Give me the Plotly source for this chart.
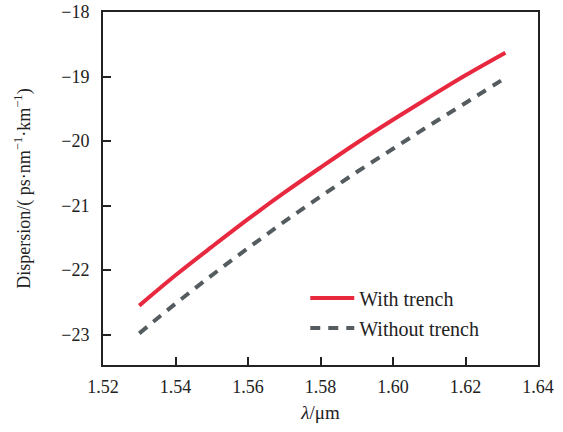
import plotly.graph_objects as go

wavelength = [1.53, 1.54, 1.55, 1.56, 1.57, 1.58, 1.59, 1.60, 1.61, 1.62, 1.631]
with_trench = [-22.55, -22.08, -21.64, -21.21, -20.80, -20.41, -20.03, -19.67, -19.32, -18.98, -18.63]
without_trench = [-22.98, -22.52, -22.08, -21.66, -21.25, -20.86, -20.48, -20.12, -19.76, -19.41, -19.02]

x_ticks = [1.52, 1.54, 1.56, 1.58, 1.60, 1.62, 1.64]
x_ticklabels = ["1.52", "1.54", "1.56", "1.58", "1.60", "1.62", "1.64"]
y_ticks = [-23, -22, -21, -20, -19, -18]

FONT = "Liberation Serif"

fig = go.Figure()
fig.add_trace(go.Scatter(x=wavelength, y=with_trench, mode="lines", name="With trench",
                         legendgroup="a",
                         line=dict(color="#e8283f", width=4, shape="spline")))
fig.add_trace(go.Scatter(x=wavelength, y=without_trench, mode="lines", name="Without trench",
                         legendgroup="b",
                         line=dict(color="#555c60", width=4, dash="10px,8px", shape="spline")))

fig.update_layout(
    width=563, height=432,
    margin=dict(l=103, r=25, t=12, b=67),
    paper_bgcolor="white", plot_bgcolor="white",
    font=dict(family=FONT, size=18, color="#222"),
    showlegend=True,
    legend=dict(x=0.465, y=0.245, xanchor="left", yanchor="top",
                bgcolor="rgba(0,0,0,0)", font=dict(size=20, family=FONT),
                traceorder="grouped", tracegroupgap=1, itemwidth=44),
    xaxis=dict(range=[1.52, 1.64], tickvals=x_ticks, ticktext=x_ticklabels,
               ticks="inside", ticklen=8, tickwidth=1.5, tickcolor="#222",
               showline=True, linecolor="#222", linewidth=2, mirror=True,
               showgrid=False, zeroline=False, automargin=False,
               title=dict(text="<i>λ</i>/μm", font=dict(size=19), standoff=10),
               ticklabelstandoff=4),
    yaxis=dict(range=[-23.47, -18], tickvals=y_ticks,
               ticks="inside", ticklen=8, tickwidth=1.5, tickcolor="#222",
               showline=True, linecolor="#222", linewidth=2, mirror=True,
               showgrid=False, zeroline=False, automargin=False,
               title=dict(text="Dispersion/( ps·nm<sup>−1</sup>·km<sup>−1</sup>)", font=dict(size=18), standoff=26),
               ticklabelstandoff=8),
)

fig.write_html("out.html")
